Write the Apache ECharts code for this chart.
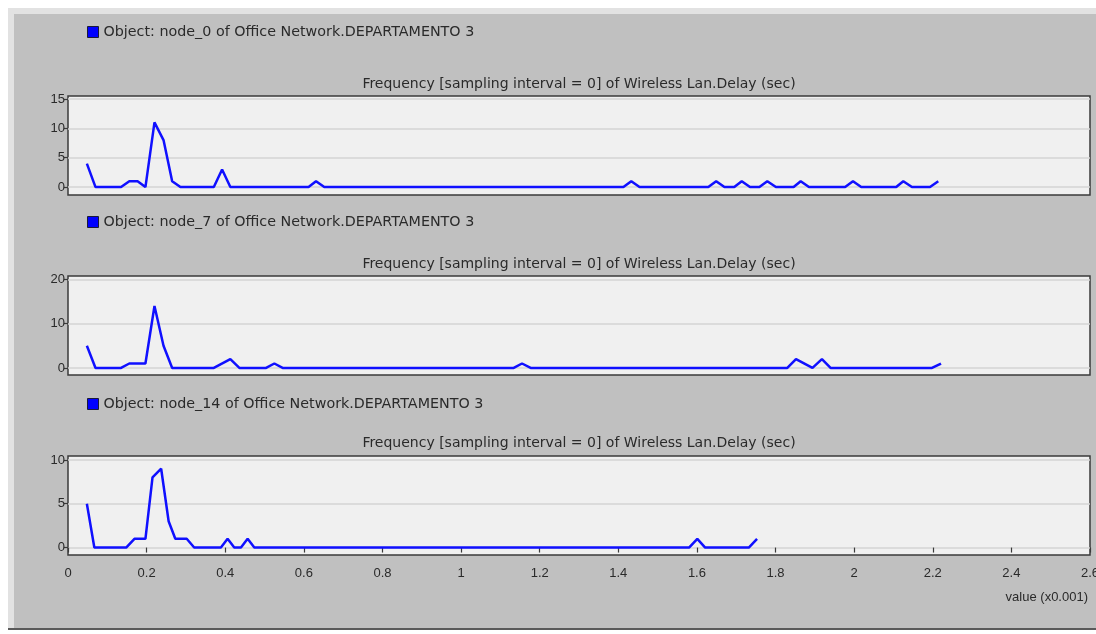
<!DOCTYPE html>
<html>
<head>
<meta charset="utf-8">
<title>Wireless Lan Delay frequency</title>
<script src="https://cdn.jsdelivr.net/npm/echarts@6.0.0/dist/echarts.min.js"></script>
<style>
  html, body { margin: 0; padding: 0; background: #ffffff; }
  #chart { width: 1096px; height: 634px; }
</style>
</head>
<body>
<div id="chart"></div>
<script>
// Frequency of Wireless LAN delay values per node (delay in units of 0.001 s)
const panelTitle = 'Frequency [sampling interval = 0] of Wireless Lan.Delay (sec)';
const seriesNames = [
  'Object: node_0 of Office Network.DEPARTAMENTO 3',
  'Object: node_7 of Office Network.DEPARTAMENTO 3',
  'Object: node_14 of Office Network.DEPARTAMENTO 3'
];

// node_0
const node0Delay = [0.048, 0.070, 0.135, 0.156, 0.177, 0.197, 0.220, 0.243, 0.265, 0.286,
  0.371, 0.392, 0.413, 0.612, 0.631, 0.652, 1.413, 1.433, 1.454, 1.629, 1.649, 1.670,
  1.695, 1.714, 1.735, 1.759, 1.779, 1.801, 1.846, 1.864, 1.885, 1.977, 1.997, 2.018,
  2.107, 2.125, 2.147, 2.193, 2.214];
const node0Freq = [4, 0, 0, 1, 1, 0, 11, 8, 1, 0,
  0, 3, 0, 0, 1, 0, 0, 1, 0, 0, 1, 0,
  0, 1, 0, 0, 1, 0, 0, 1, 0, 0, 1, 0,
  0, 1, 0, 0, 1];

// node_7
const node7Delay = [0.048, 0.070, 0.135, 0.156, 0.197, 0.220, 0.243, 0.265, 0.371, 0.413,
  0.436, 0.504, 0.525, 0.546, 1.134, 1.155, 1.177, 1.830, 1.852, 1.894, 1.918, 1.940,
  2.198, 2.221];
const node7Freq = [5, 0, 0, 1, 1, 14, 5, 0, 0, 2,
  0, 0, 1, 0, 0, 1, 0, 0, 2, 0, 2, 0,
  0, 1];

// node_14
const node14Delay = [0.048, 0.067, 0.148, 0.169, 0.197, 0.215, 0.237, 0.256, 0.273, 0.302,
  0.321, 0.389, 0.406, 0.423, 0.440, 0.457, 0.474, 1.580, 1.601, 1.621, 1.732, 1.753];
const node14Freq = [5, 0, 0, 1, 1, 8, 9, 3, 1, 1,
  0, 0, 1, 0, 0, 1, 0, 0, 1, 0, 0, 1];

// Tick labels
const node0Ticks = [0, 5, 10, 15];
const node7Ticks = [0, 10, 20];
const node14Ticks = [0, 5, 10];
const delayTicks = [0, 0.2, 0.4, 0.6, 0.8, 1, 1.2, 1.4, 1.6, 1.8, 2, 2.2, 2.4, 2.6];
const delayAxisName = 'value (x0.001)';

const pairs = (xs, ys) => xs.map((x, i) => [x, ys[i]]);
const panels = [
  { name: seriesNames[0], data: pairs(node0Delay, node0Freq), ticks: node0Ticks, min: -1.35, max: 15.5 },
  { name: seriesNames[1], data: pairs(node7Delay, node7Freq), ticks: node7Ticks, min: -1.6, max: 20.8 },
  { name: seriesNames[2], data: pairs(node14Delay, node14Freq), ticks: node14Ticks, min: -0.85, max: 10.45 }
];

const NUM_FONT = 'Liberation Sans';
const TXT_FONT = 'DejaVu Sans';
const TEXT = '#2a2a2a';
const plotLeft = 68, plotWidth = 1022, plotHeight = 99;
const plotTops = [96, 276, 456];
const legendTops = [25, 215, 397];
const titleTops = [77, 257, 436];

const chart = echarts.init(document.getElementById('chart'), null, { renderer: 'canvas' });

const option = {
  backgroundColor: '#c0c0c0',
  animation: false,
  graphic: [
    { type: 'rect', shape: { x: 0, y: 0, width: 1096, height: 8 }, style: { fill: '#ffffff' }, silent: true },
    { type: 'rect', shape: { x: 0, y: 0, width: 8, height: 634 }, style: { fill: '#ffffff' }, silent: true },
    { type: 'rect', shape: { x: 8, y: 8, width: 1088, height: 6 }, style: { fill: '#e2e2e2' }, silent: true },
    { type: 'rect', shape: { x: 8, y: 8, width: 6, height: 621 }, style: { fill: '#e2e2e2' }, silent: true },
    { type: 'rect', shape: { x: 8, y: 628, width: 1088, height: 2 }, style: { fill: '#5a5a5a' }, silent: true },
    { type: 'rect', shape: { x: 0, y: 630, width: 1096, height: 4 }, style: { fill: '#ffffff' }, silent: true },
    {
      type: 'text', right: 8, top: 591,
      style: { text: delayAxisName, font: '13px "' + NUM_FONT + '"', fill: TEXT }
    }
  ],
  title: panels.map((p, i) => ({
    text: panelTitle,
    left: plotLeft + plotWidth / 2,
    top: titleTops[i],
    textAlign: 'center',
    padding: 0,
    textStyle: { fontFamily: TXT_FONT, fontSize: 14, fontWeight: 'normal', color: TEXT }
  })),
  legend: panels.map((p, i) => ({
    data: [p.name],
    left: 87,
    top: legendTops[i],
    padding: 0,
    icon: 'rect',
    itemWidth: 11,
    itemHeight: 11,
    itemStyle: { color: '#0000ff', borderColor: '#1a1a3a', borderWidth: 1 },
    textStyle: { fontFamily: TXT_FONT, fontSize: 14.3, color: TEXT },
    selectedMode: false
  })),
  grid: panels.map((p, i) => ({
    left: plotLeft,
    top: plotTops[i],
    width: plotWidth,
    height: plotHeight,
    outerBoundsMode: 'none',
    containLabel: false,
    show: true,
    backgroundColor: '#f0f0f0',
    borderColor: '#3a3a3a',
    borderWidth: 1.5
  })),
  xAxis: panels.map((p, i) => ({
    type: 'value',
    gridIndex: i,
    min: 0,
    max: 2.6,
    interval: 0.2,
    axisLine: { show: false },
    splitLine: { show: false },
    axisTick: {
      show: i === 2,
      customValues: delayTicks,
      length: 5,
      lineStyle: { color: '#3a3a3a', width: 1.2 }
    },
    axisLabel: {
      show: i === 2,
      customValues: delayTicks,
      hideOverlap: false,
      margin: 12,
      fontFamily: NUM_FONT,
      fontSize: 13,
      color: TEXT
    }
  })),
  yAxis: panels.map((p, i) => ({
    type: 'value',
    gridIndex: i,
    min: p.min,
    max: p.max,
    axisLine: { show: false },
    axisTick: {
      show: true,
      customValues: p.ticks,
      length: 4,
      lineStyle: { color: '#3a3a3a', width: 1.2 }
    },
    axisLabel: {
      customValues: p.ticks,
      margin: 3,
      fontFamily: NUM_FONT,
      fontSize: 13,
      color: TEXT
    },
    splitLine: { show: true, lineStyle: { color: '#d4d4d4', width: 1.5 } }
  })),
  series: panels.map((p, i) => ({
    name: p.name,
    type: 'line',
    xAxisIndex: i,
    yAxisIndex: i,
    data: p.data,
    showSymbol: false,
    symbol: 'none',
    lineStyle: { color: '#1010ff', width: 2.5 },
    itemStyle: { color: '#0000ff' },
    z: 3
  }))
};

chart.setOption(option);
</script>
</body>
</html>
